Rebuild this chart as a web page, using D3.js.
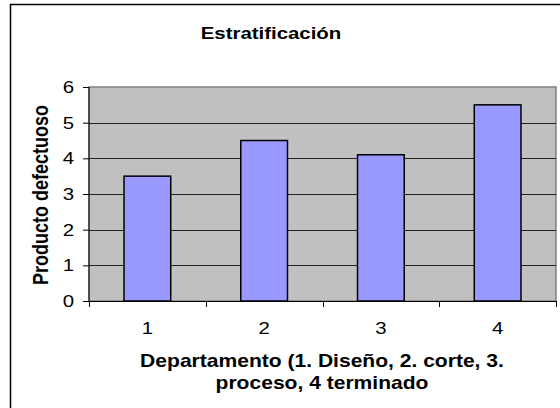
<!DOCTYPE html>
<html>
<head>
<meta charset="utf-8">
<script src="https://cdn.jsdelivr.net/npm/d3@7"></script>
<style>
body { margin: 0; background: #fff; }
svg text { font-family: Arial, "Liberation Sans", sans-serif; fill: #000; }
</style>
</head>
<body>
<div id="chart"></div>
<script>
// data
var departamentos = ["1", "2", "3", "4"];
var defectuosos = [3.5, 4.5, 4.1, 5.5];
var yTicks = [0, 1, 2, 3, 4, 5, 6];

var svgWidth = 560;
var svgHeight = 408;

var margin = { top: 87, right: 4, bottom: 107, left: 89 };
var width = svgWidth - margin.left - margin.right;
var height = svgHeight - margin.top - margin.bottom;

// the original picture is a bit stretched sideways, so text is widened
var stretch = 1.2;

var svg = d3.select("#chart")
    .append("svg")
    .attr("width", svgWidth)
    .attr("height", svgHeight);

// outer chart border (cropped at right and bottom)
svg.append("rect")
    .attr("x", 10.5)
    .attr("y", 4.5)
    .attr("width", 700)
    .attr("height", 600)
    .attr("fill", "none")
    .attr("stroke", "#000")
    .attr("stroke-width", 1.5);

svg.append("text")
    .attr("transform", `translate(271, 39) scale(${stretch}, 1)`)
    .attr("text-anchor", "middle")
    .style("font-size", "17px")
    .style("font-weight", "bold")
    .text("Estratificación");

var chartGroup = svg.append("g")
    .attr("transform", `translate(${margin.left}, ${margin.top})`);

var xBand = d3.scaleBand()
    .domain(departamentos)
    .range([0, width])
    .padding(0);

var yLinearScale = d3.scaleLinear()
    .domain([0, 6])
    .range([height, 0]);

// plot area
chartGroup.append("rect")
    .attr("x", 0)
    .attr("y", 0)
    .attr("width", width)
    .attr("height", height)
    .attr("fill", "#c0c0c0")
    .attr("stroke", "#808080")
    .attr("stroke-width", 1.5);

// gridlines
chartGroup.append("g")
    .selectAll("line")
    .data(yTicks.filter(d => d > 0 && d < 6))
    .enter()
    .append("line")
    .attr("x1", 0)
    .attr("x2", width)
    .attr("y1", d => Math.round(yLinearScale(d)) + 0.5)
    .attr("y2", d => Math.round(yLinearScale(d)) + 0.5)
    .attr("stroke", "#222")
    .attr("stroke-width", 1);

// bars, gap width like 150%
var barWidth = xBand.bandwidth() / 2.5;
chartGroup.selectAll(".bar")
    .data(defectuosos)
    .enter()
    .append("rect")
    .attr("class", "bar")
    .attr("x", (d, i) => xBand(departamentos[i]) + (xBand.bandwidth() - barWidth) / 2)
    .attr("y", d => yLinearScale(d))
    .attr("width", barWidth)
    .attr("height", d => height - yLinearScale(d))
    .attr("fill", "#9999ff")
    .attr("stroke", "#000")
    .attr("stroke-width", 1.5);

// y axis
var leftAxis = d3.axisLeft(yLinearScale)
    .tickValues(yTicks)
    .tickSize(6)
    .tickFormat(d3.format("d"));

var yAxis = chartGroup.append("g").call(leftAxis);
yAxis.select(".domain").attr("d", `M0,${height}V0`).attr("stroke", "#000");
yAxis.selectAll(".tick text")
    .attr("x", null)
    .attr("transform", `translate(-15, 0) scale(${stretch}, 1)`)
    .style("font-size", "17px")
    .style("font-family", "Arial, 'Liberation Sans', sans-serif");

// x axis: ticks on category boundaries
var xAxisG = chartGroup.append("g")
    .attr("transform", `translate(0, ${height})`);
xAxisG.append("line")
    .attr("x1", 0).attr("x2", width)
    .attr("y1", 0.5).attr("y2", 0.5)
    .attr("stroke", "#000");
xAxisG.selectAll(".xtick")
    .data(departamentos.concat(["end"]))
    .enter()
    .append("line")
    .attr("x1", (d, i) => Math.round(i < departamentos.length ? xBand(d) : width) + 0.5)
    .attr("x2", (d, i) => Math.round(i < departamentos.length ? xBand(d) : width) + 0.5)
    .attr("y1", 0)
    .attr("y2", 6)
    .attr("stroke", "#000");
xAxisG.selectAll(".xlabel")
    .data(departamentos)
    .enter()
    .append("text")
    .attr("transform", d => `translate(${xBand(d) + xBand.bandwidth() / 2}, 33) scale(${stretch}, 1)`)
    .attr("text-anchor", "middle")
    .style("font-size", "17px")
    .text(d => d);

// axis titles
var xTitle = svg.append("text")
    .attr("transform", `translate(322, 0) scale(1.17, 1)`)
    .attr("text-anchor", "middle")
    .style("font-size", "18px")
    .style("font-weight", "bold");
xTitle.append("tspan")
    .attr("x", 0)
    .attr("y", 367)
    .text("Departamento (1. Diseño, 2. corte, 3.");
xTitle.append("tspan")
    .attr("x", 0)
    .attr("y", 389)
    .text("proceso, 4 terminado");

svg.append("text")
    .attr("transform", `translate(48, 195) scale(${stretch}, 1) rotate(-90)`)
    .attr("text-anchor", "middle")
    .style("font-size", "18px")
    .style("font-weight", "bold")
    .text("Producto defectuoso");
</script>
</body>
</html>
